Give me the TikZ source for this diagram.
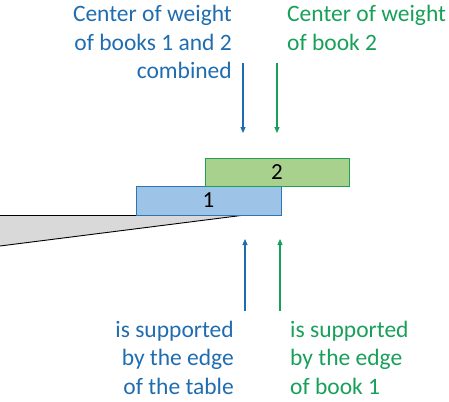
\documentclass[tikz,border=0pt]{standalone}
\usepackage{fontspec}
\setmainfont{Carlito}
\usetikzlibrary{arrows.meta}
\definecolor{cblue}{HTML}{1F6DB0}
\definecolor{cgreen}{HTML}{18A05A}
\definecolor{bookblue}{HTML}{9DC3E6}
\definecolor{bookblueedge}{HTML}{2E75B6}
\definecolor{bookgreen}{HTML}{A9D18E}
\definecolor{bookgreenedge}{HTML}{1FA055}
\definecolor{tablegray}{HTML}{D9D9D9}
\tikzset{
  lbl/.style={inner sep=0pt, font=\fontsize{23.5}{28.5}\selectfont},
  book/.style={draw, line width=0.9pt, inner sep=0pt, font=\fontsize{23}{27}\selectfont},
  force/.style={line width=1.1pt, -{Triangle[length=6pt,width=5pt]}}
}
\begin{document}
\begin{tikzpicture}[x=1pt,y=-1pt]
\useasboundingbox (0,0) rectangle (449,401);
% table
\fill[tablegray] (0,215) -- (245,215) -- (0,246) -- cycle;
\draw[line width=0.9pt] (0,215) -- (137,215);
\draw[line width=0.9pt] (0,246) -- (245,215);
% books
\node[book, draw=bookblueedge, fill=bookblue, minimum width=145pt, minimum height=29pt] (b1) at (208.5,200.5) {1};
\node[book, draw=bookgreenedge, fill=bookgreen, minimum width=144pt, minimum height=28pt] (b2) at (277,172) {2};
% labels
\node[lbl, text=cblue, align=right, anchor=north east] (tl) at (232,5) {Center of weight\\of books 1 and 2\\combined};
\node[lbl, text=cgreen, align=left, anchor=north west] (tr) at (287,5) {Center of weight\\of book 2};
\node[lbl, text=cblue, align=right, anchor=north east] (bl) at (234,320.5) {is supported\\by the edge\\of the table};
\node[lbl, text=cgreen, align=left, anchor=north west] (br) at (290,320.5) {is supported\\by the edge\\of book 1};
% arrows
\coordinate (d1s) at (243,63); \coordinate (d1e) at (243,133);
\coordinate (d2s) at (277,63); \coordinate (d2e) at (277,133);
\coordinate (u1s) at (245,311); \coordinate (u1e) at (245,239);
\coordinate (u2s) at (280,311); \coordinate (u2e) at (280,239);
\draw[force, cblue] (d1s) -- (d1e);
\draw[force, cgreen] (d2s) -- (d2e);
\draw[force, cblue] (u1s) -- (u1e);
\draw[force, cgreen] (u2s) -- (u2e);
\end{tikzpicture}
\end{document}
